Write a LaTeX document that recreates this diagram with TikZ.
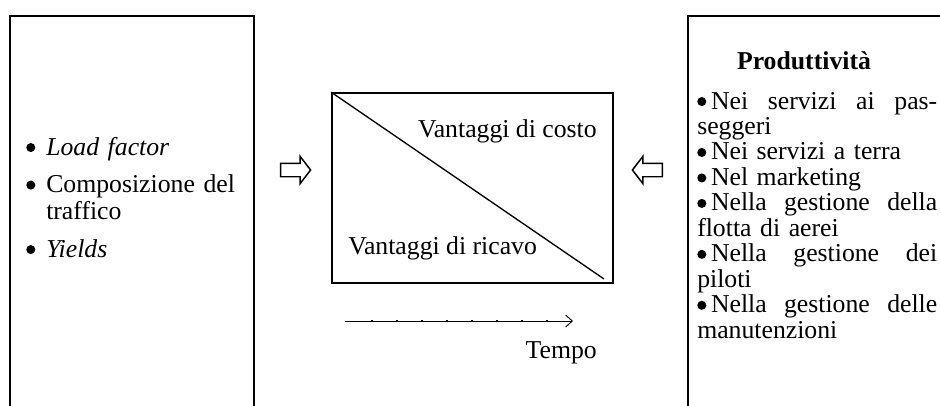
\documentclass[tikz,border=0pt]{standalone}
\usepackage{fontspec}
\setmainfont{Liberation Serif}
\usetikzlibrary{shapes.arrows,arrows.meta}
\newcommand{\pallino}{\tikz[baseline=0pt]\fill (3.4pt,5.6pt) circle (3.4pt);}
\newcommand{\puntino}{\makebox[15pt][l]{\pallino}}
\newcommand{\puntodx}{\pallino\hspace{3.5pt}}

\begin{document}
\begin{tikzpicture}[
  x=0.75pt, y=-0.75pt,
  font=\fontsize{19.3}{20.25}\selectfont,
  panel/.style={draw=black, line width=1.5pt, inner sep=0pt, anchor=north west, minimum height=450pt},
  chart/.style={draw=black, line width=1.3pt, inner sep=0pt, minimum width=210.75pt, minimum height=142.5pt},
  lbl/.style={inner sep=0pt},
  blockarr/.style={single arrow, draw=black, line width=1.1pt, fill=white, inner xsep=0pt, inner ysep=4.5pt, minimum height=22.5pt, single arrow head extend=5.25pt, single arrow tip angle=105},
  diag/.style={line width=1pt},
  timearr/.style={-{Straight Barb[length=5pt,width=9pt]}, line width=0.7pt},
]
\useasboundingbox (0,0) rectangle (940,405);
\clip (0,0) rectangle (940,405);

% side panels
\node[panel, minimum width=183pt] (fattori) at (9,15) {};
\node[panel, minimum width=225pt] (prod) at (687,15) {};

\node[lbl, anchor=base west, text width=165pt, align=left] (voci) at (26,155)
  {\puntino\textit{Load factor}\\[7.9pt]
   \puntino Composizione del\\
   \hspace*{15pt}traffico\\[7.9pt]
   \puntino\textit{Yields}};

\node[lbl, anchor=base] (titolo) at (804,69) {\textbf{Produttività}};
\node[lbl, anchor=base west, text width=180pt, align=left, font=\fontsize{19.3}{19.1}\selectfont] (aree) at (697,109)
  {\makebox[180pt][l]{\puntodx Nei\hfill servizi\hfill ai\hfill pas-}\\
   seggeri\\
   \puntodx Nei servizi a terra\\
   \puntodx Nel marketing\\
   \makebox[180pt][l]{\puntodx Nella\hfill gestione\hfill della}\\
   flotta di aerei\\
   \makebox[180pt][l]{\puntodx Nella\hfill gestione\hfill dei}\\
   piloti\\
   \makebox[180pt][l]{\puntodx Nella\hfill gestione\hfill delle}\\
   manutenzioni};

% central chart
\node[chart] (mat) at (472.5,188) {};
\draw[diag] (mat.north west) -- ([xshift=-7.5pt,yshift=3.75pt]mat.south east);
\node[lbl, anchor=base east] (costo) at (597,137) {Vantaggi di costo};
\node[lbl, anchor=base west] (ricavo) at (348,254) {Vantaggi di ricavo};

\node[blockarr] (versoL) at (293,170) {};
\node[blockarr, shape border rotate=180] (versoR) at (650,170) {};

% time axis
\coordinate (t0) at (345,321);
\coordinate (t1) at (573,321);
\draw[timearr] (t0) -- (t1);
\foreach \x in {372,397,...,547}
  \fill (\x-0.6,320.4) rectangle (\x+0.6,321.6);
\node[lbl, anchor=base east] (tempo) at (597,358) {Tempo};
\end{tikzpicture}
\end{document}
